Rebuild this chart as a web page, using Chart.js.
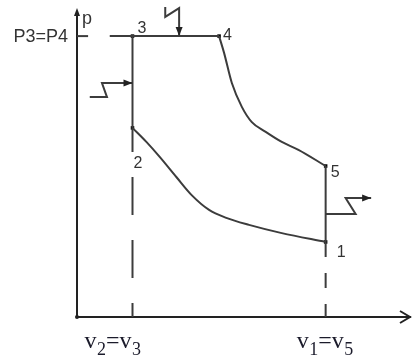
<!DOCTYPE html>
<html>
<head>
<meta charset="utf-8">
<script src="https://cdn.jsdelivr.net/npm/chart.js@4.4.1/dist/chart.umd.min.js"></script>
<style>
  html, body { margin: 0; padding: 0; background: #fff; }
</style>
</head>
<body>
<canvas id="cycle" width="414" height="363"></canvas>
<script>
// state points 1..5, v and p in arbitrary units
const stateNames = ["1", "2", "3", "4", "5"];
const stateV = [4.48, 1.0, 1.0, 2.56, 4.48];
const stateP = [2.46, 6.2, 9.21, 9.21, 4.95];

// compression curve between 2 and 1 (listed from 2 to 1)
const compV = [1.0, 1.25, 1.49, 1.79, 2.08, 2.38, 2.69, 3.1, 3.69, 4.48];
const compP = [6.2, 5.74, 5.25, 4.59, 3.97, 3.51, 3.25, 3.02, 2.75, 2.46];

// expansion 4 -> 5
const expV = [2.56, 2.65, 2.79, 2.97, 3.15, 3.4, 3.69, 3.99, 4.48];
const expP = [9.21, 8.66, 7.67, 6.89, 6.39, 6.07, 5.74, 5.48, 4.95];

// start of the P3=P4 reference line
const pLineStartV = 0.59;

// heat arrows (last point is the tip)
const heatTopV = [1.59, 1.59, 1.84, 1.84];
const heatTopP = [10.16, 9.84, 10.13, 9.21];
const heatInV = [0.23, 0.54, 0.45, 1.0];
const heatInP = [7.21, 7.21, 7.67, 7.67];
const heatOutV = [4.48, 5.02, 4.84, 5.3];
const heatOutP = [3.38, 3.38, 3.9, 3.9];

const xMax = 6;
const yMax = 10;

const lineColor = "#3c3c3c";
const pts = (vs, ps) => vs.map((v, i) => ({ x: v, y: ps[i] }));
const st = (i) => ({ x: stateV[i], y: stateP[i] });

function lineSet(data, extra) {
  return Object.assign({
    data,
    showLine: true,
    borderColor: lineColor,
    borderWidth: 2,
    pointRadius: 0,
    tension: 0,
    clip: false,
  }, extra || {});
}

const curve = { cubicInterpolationMode: "monotone" };

const datasets = [
  lineSet(pts(compV, compP), curve),
  lineSet(pts(expV, expP), curve),
  lineSet([st(1), st(2)]),
  lineSet([{ x: pLineStartV, y: stateP[2] }, st(3)]),
  lineSet([{ x: 0, y: stateP[2] }, { x: 0.2, y: stateP[2] }]),
  lineSet([st(4), st(0)]),
  lineSet([st(1), { x: stateV[1], y: 0 }], { borderDash: [38, 25], borderDashOffset: 14 }),
  lineSet([st(0), { x: stateV[0], y: 0 }], { borderDash: [15, 16] }),
  lineSet(pts(heatTopV, heatTopP), { arrow: true }),
  lineSet(pts(heatInV, heatInP), { arrow: true }),
  lineSet(pts(heatOutV, heatOutP), { arrow: true }),
  {
    data: stateV.map((v, i) => st(i)),
    showLine: false,
    pointStyle: "rect",
    pointRadius: 2.5,
    backgroundColor: "#000",
    borderColor: "#000",
    borderWidth: 0,
    clip: false,
  },
];

function arrowHead(ctx, x0, y0, x1, y1, len, half) {
  const a = Math.atan2(y1 - y0, x1 - x0);
  const c = Math.cos(a), s = Math.sin(a);
  ctx.beginPath();
  ctx.moveTo(x1, y1);
  ctx.lineTo(x1 - len * c + half * s, y1 - len * s - half * c);
  ctx.lineTo(x1 - len * c - half * s, y1 - len * s + half * c);
  ctx.closePath();
  ctx.fill();
}

// small label offsets from each state point (pixels)
const labelOffsets = [[11, 15], [1, 40], [5, -3], [4, 4], [5, 11]];

function drawSub(ctx, x, y, parts) {
  // parts: [text, isSub]
  for (const [t, sub] of parts) {
    ctx.font = sub ? "18px 'Liberation Serif'" : "24px 'Liberation Serif'";
    ctx.fillText(t, x, sub ? y + 7 : y);
    x += ctx.measureText(t).width + (sub ? 0 : 0.5);
  }
}

const decor = {
  id: "decor",
  afterDatasetsDraw(chart) {
    const { ctx, chartArea, scales } = chart;
    const xs = scales.x, ys = scales.y;
    ctx.save();

    // heat arrow heads
    ctx.fillStyle = "#222";
    chart.data.datasets.forEach((ds) => {
      if (!ds.arrow) return;
      const n = ds.data.length;
      const a = ds.data[n - 2], b = ds.data[n - 1];
      arrowHead(ctx, xs.getPixelForValue(a.x), ys.getPixelForValue(a.y),
        xs.getPixelForValue(b.x), ys.getPixelForValue(b.y), 9, 3.5);
    });

    // axis arrows
    const ox = xs.getPixelForValue(0), oy = ys.getPixelForValue(0);
    ctx.fillStyle = "#222";
    arrowHead(ctx, ox, chartArea.top + 10, ox, chartArea.top - 4, 8, 3);
    ctx.strokeStyle = "#222";
    ctx.lineWidth = 2;
    ctx.beginPath();
    ctx.moveTo(chartArea.right - 10, oy - 6);
    ctx.lineTo(chartArea.right, oy);
    ctx.lineTo(chartArea.right - 10, oy + 6);
    ctx.stroke();
    ctx.beginPath();
    ctx.arc(ox, oy, 2, 0, Math.PI * 2);
    ctx.fill();

    // state labels
    ctx.fillStyle = "#333";
    ctx.textBaseline = "alphabetic";
    ctx.font = "16px 'Liberation Sans'";
    stateNames.forEach((name, i) => {
      const px = xs.getPixelForValue(stateV[i]);
      const py = ys.getPixelForValue(stateP[i]);
      ctx.fillText(name, px + labelOffsets[i][0], py + labelOffsets[i][1]);
    });

    // axis name and pressure label
    ctx.font = "18px 'Liberation Sans'";
    ctx.fillText("p", ox + 5, chartArea.top + 12);
    ctx.textAlign = "right";
    ctx.fillText("P3=P4", ox - 9, ys.getPixelForValue(stateP[2]) + 6);
    ctx.textAlign = "left";

    // volume labels
    ctx.fillStyle = "#1b1b2b";
    drawSub(ctx, xs.getPixelForValue(stateV[1]) - 48, oy + 31,
      [["v", false], ["2", true], ["=v", false], ["3", true]]);
    drawSub(ctx, xs.getPixelForValue(stateV[0]) - 29, oy + 31,
      [["v", false], ["1", true], ["=v", false], ["5", true]]);

    ctx.restore();
  },
};

new Chart(document.getElementById("cycle"), {
  type: "scatter",
  data: { datasets },
  options: {
    responsive: false,
    animation: false,
    devicePixelRatio: 1,
    layout: { padding: { left: 77, right: 2, top: 12, bottom: 46 } },
    plugins: { legend: { display: false }, tooltip: { enabled: false } },
    scales: {
      x: {
        type: "linear", min: 0, max: xMax,
        grid: { display: false, drawTicks: false },
        ticks: { display: false },
        border: { display: true, color: "#222", width: 2 },
      },
      y: {
        type: "linear", min: 0, max: yMax,
        grid: { display: false, drawTicks: false },
        ticks: { display: false },
        border: { display: true, color: "#222", width: 2 },
      },
    },
  },
  plugins: [decor],
});
</script>
</body>
</html>
